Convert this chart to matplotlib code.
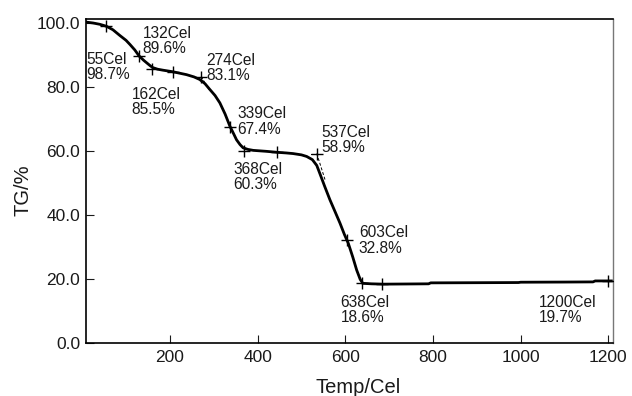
import matplotlib
matplotlib.use("Agg")
import matplotlib.pyplot as plt

plt.rcParams['font.family'] = ['Liberation Sans', 'DejaVu Sans']

# TG curve (temperature in Cel, mass in %)
temp = [8, 25, 40, 55, 70, 86, 100, 109, 120, 130, 140, 147, 155, 161, 172, 184, 207,
        238, 255, 268, 280, 291, 303, 314, 326, 337, 346, 352, 360, 367, 378, 390,
        420, 444, 465, 481, 500, 512, 525, 535, 542, 553, 565, 577, 588, 598, 607,
        617, 626, 634, 640, 660, 687, 740, 790, 795, 900, 995, 1000, 1100, 1165,
        1170, 1210]
tg = [100.2, 99.9, 99.5, 98.9, 97.8, 96.0, 94.5, 93.2, 91.5, 89.6, 88.3, 87.5,
      86.6, 86.0, 85.5, 85.2, 84.7, 83.8, 83.1, 82.3, 81.0, 79.2, 77.3, 75.0,
      71.5, 67.7, 65.2, 63.5, 62.0, 61.0, 60.5, 60.2, 59.9, 59.6, 59.4, 59.2,
      58.8, 58.3, 57.3, 55.5, 53.0, 49.0, 44.8, 41.0, 37.5, 34.0, 31.2, 27.0,
      22.9, 20.0, 18.75, 18.6, 18.5, 18.55, 18.6, 18.9, 18.95, 19.0, 19.1, 19.15,
      19.2, 19.5, 19.5]

# "+" marks on the curve
mark_temp = [54, 130, 160, 206, 272, 337, 370, 444, 535, 603, 638, 683, 1200]
mark_tg = [99.0, 89.6, 85.7, 84.7, 83.1, 67.5, 60.1, 59.6, 59.2, 32.3, 18.75, 18.6, 19.4]

# annotation values
label_temps = [132, 55, 162, 274, 339, 368, 537, 603, 638, 1200]
label_tgs = [89.6, 98.7, 85.5, 83.1, 67.4, 60.3, 58.9, 32.8, 18.6, 19.7]
# where the annotation text is placed (data coords, top-left)
label_pos = [(138, 99.0), (10, 91.0), (113, 80.1), (284, 90.7), (353, 74.0),
             (344, 56.7), (546, 68.2), (631, 36.8), (589, 15.2), (1042, 15.2)]

xticks = [200, 400, 600, 800, 1000, 1200]
yticks = [0, 20, 40, 60, 80, 100]

fig = plt.figure(figsize=(6.32, 3.96), dpi=100)
ax = fig.add_axes([0.1356, 0.1326, 0.8339, 0.8182])

ax.plot(temp, tg, color='black', lw=2.0, solid_capstyle='butt', zorder=3)
ax.plot(mark_temp, mark_tg, ls='none', marker='+', ms=9, mew=1.0, color='black', zorder=4)

# tangent guide lines
ax.plot([522, 535], [59.2, 59.2], color='black', lw=0.7)
ax.plot([535, 554], [59.2, 51.0], color='black', lw=0.7, ls=(0, (3, 2)))
ax.plot([272, 290], [83.1, 79.0], color='black', lw=0.6, ls=(0, (3, 2)))

tc = '#1a1a1a'
for t, v, (px, py) in zip(label_temps, label_tgs, label_pos):
    ax.text(px, py, f"{t}Cel\n{v:.1f}%", fontsize=11.2, ha='left', va='top',
            color=tc, linespacing=1.05, zorder=5)

ax.set_xlim(8, 1210)
ax.set_ylim(0, 101)
ax.set_xticks(xticks)
ax.set_xticklabels([str(x) for x in xticks])
ax.set_yticks(yticks)
ax.set_yticklabels([f"{y:.1f}" for y in yticks])
ax.tick_params(direction='in', length=6, width=0.8, labelsize=12.5, colors=tc)
ax.tick_params(axis='x', pad=5)
ax.tick_params(axis='y', pad=4)

for s in ['left', 'bottom', 'top']:
    ax.spines[s].set_linewidth(1.2)
    ax.spines[s].set_color('black')
ax.spines['right'].set_linewidth(1.0)
ax.spines['right'].set_color('#777777')

ax.set_xlabel('Temp/Cel', fontsize=14.5, color=tc)
ax.set_ylabel('TG/%', fontsize=14.5, color=tc)
ax.xaxis.set_label_coords(0.517, -0.108)
ax.yaxis.set_label_coords(-0.101, 0.474)

fig.savefig('out.png', dpi=100)
